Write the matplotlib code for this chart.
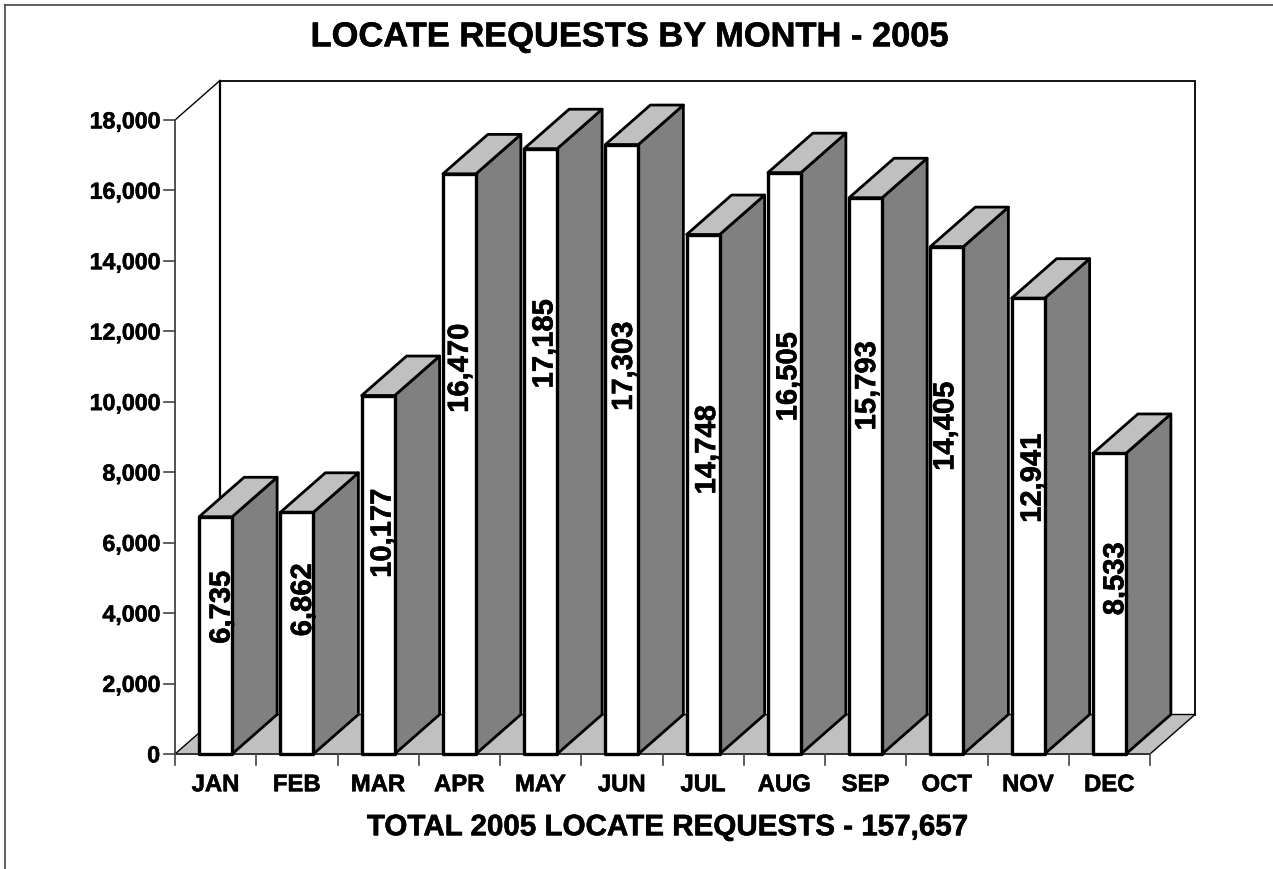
import matplotlib
matplotlib.use("Agg")
import matplotlib.pyplot as plt
from matplotlib.patches import Polygon
import matplotlib.patheffects as pe

plt.rcParams['font.family'] = ['Liberation Sans', 'DejaVu Sans']
plt.rcParams['text.hinting'] = 'no_hinting'
plt.rcParams['text.hinting_factor'] = 1

months = ["JAN", "FEB", "MAR", "APR", "MAY", "JUN", "JUL", "AUG", "SEP", "OCT", "NOV", "DEC"]
requests = [6735, 6862, 10177, 16470, 17185, 17303, 14748, 16505, 15793, 14405, 12941, 8533]
y_ticks = [0, 2000, 4000, 6000, 8000, 10000, 12000, 14000, 16000, 18000]

# hand placed value labels in the source, pixels from the bar centre / floor
label_shift = [4.5, 4.6, 3, -1, 2.4, 0.6, 2.5, 2.5, 0, -3, 3, 4.5]
label_rise = [146.5, 154, 220.5, 385.5, 410, 387.5, 304, 377, 368, 327.5, 275.5, 175]

W, H = 1273, 869
# pixel frame of the plot (front floor left/bottom, back wall right/top)
left, right, bottom, top = 175.0, 1195.0, 754.0, 80.5
cat_px = 81.25
y_scale = (754.0 - 120.0) / 18000
# depth of the 3d effect in data units
dx = 45 / cat_px
dy = 39.5 / y_scale
bar_w = 33 / cat_px
heavy = [pe.withStroke(linewidth=0.4, foreground="black")]

fig = plt.figure(figsize=(W / 100, H / 100), dpi=100)
ax = fig.add_axes([left / W, 1 - bottom / H, (right - left) / W, (bottom - top) / H])
ax.set_xlim(0, (right - left) / cat_px)
ax.set_ylim(0, (bottom - top) / y_scale)
ax.axis("off")

n = len(months)
ymax = y_ticks[-1]

# back wall and floor
ax.add_patch(Polygon([(dx, dy), (n + dx, dy), (n + dx, ymax + dy), (dx, ymax + dy)],
                     closed=True, fc="white", ec="black", lw=1.3, zorder=1, clip_on=False))
ax.add_patch(Polygon([(0, 0), (dx, dy), (n + dx, dy), (n, 0)],
                     closed=True, fc="#c0c0c0", ec="black", lw=1, zorder=2, clip_on=False))
ax.plot([dx, dx], [dy, ymax + dy], color="black", lw=1.6, zorder=2, clip_on=False)
ax.plot([0, dx], [ymax, ymax + dy], color="black", lw=1, zorder=2, clip_on=False)

# axis lines and ticks
ax.plot([0, 0], [0, ymax], color="#333333", lw=1.2, zorder=3, clip_on=False)
ax.plot([0, n], [0, 0], color="#333333", lw=1.2, zorder=3, clip_on=False)
for t in y_ticks:
    ax.plot([-11 / cat_px, 0], [t, t], color="#444444", lw=1.2, clip_on=False, zorder=3)
    ax.text(-15 / cat_px, t, f"{t:,}", ha="right", va="center_baseline", fontsize=16.7,
            fontweight="bold", color="black", path_effects=heavy)
for i in range(n + 1):
    ax.plot([i, i], [0, -11 / y_scale], color="#444444", lw=1.2, clip_on=False, zorder=3)

# bars, left to right so each one overlaps the last
for i, v in enumerate(requests):
    x0 = i + 0.5 - bar_w / 2
    x1 = x0 + bar_w
    z = 4 + i
    ax.add_patch(Polygon([(x1, 0), (x1 + dx, dy), (x1 + dx, v + dy), (x1, v)],
                         closed=True, fc="#808080", ec="black", lw=2, joinstyle="round", zorder=z, clip_on=False))
    ax.add_patch(Polygon([(x0, v), (x1, v), (x1 + dx, v + dy), (x0 + dx, v + dy)],
                         closed=True, fc="#c0c0c0", ec="black", lw=2, joinstyle="round", zorder=z, clip_on=False))
    ax.add_patch(Polygon([(x0, 0), (x1, 0), (x1, v), (x0, v)],
                         closed=True, fc="white", ec="black", lw=2.4, joinstyle="round", zorder=z, clip_on=False))
    ax.annotate(f"{v:,}", xy=(i + 0.5, 0), xytext=(label_shift[i] + 2, label_rise[i]),
                textcoords="offset pixels", rotation=90, ha="center", va="center",
                fontsize=21, fontweight="bold", color="black", zorder=20, annotation_clip=False,
                path_effects=heavy)
    ax.text(i + 0.5, -31 / y_scale, months[i], ha="center", va="center",
            fontsize=17.2, fontweight="bold", color="black", clip_on=False, path_effects=heavy)

# titles
fig.text(625 / W, 1 - 37.5 / H, "LOCATE REQUESTS BY MONTH - 2005", ha="center", va="center",
         fontsize=24.8, fontweight="bold", color="black", path_effects=heavy)
fig.text(671.5 / W, 1 - 827.5 / H, "TOTAL 2005 LOCATE REQUESTS - 157,657", ha="center", va="center",
         fontsize=21.3, fontweight="bold", color="black", path_effects=heavy)

# outer frame, only left and top show in the source
fig.add_artist(plt.Line2D([4.5 / W, 4.5 / W], [0, 1 - 4.5 / H], color="#444444", lw=1.2))
fig.add_artist(plt.Line2D([4.5 / W, 1], [1 - 4.5 / H, 1 - 4.5 / H], color="#444444", lw=1.2))

plt.savefig("out.png", dpi=100)
